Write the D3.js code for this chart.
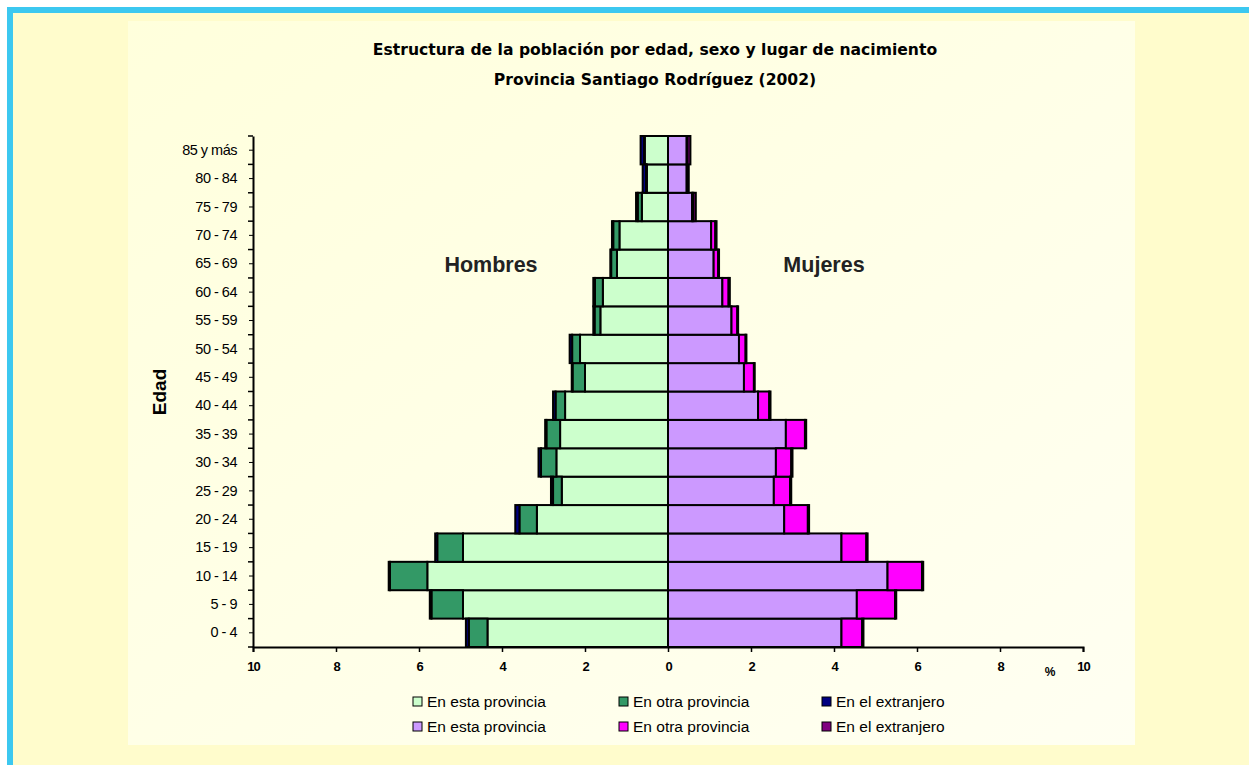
<!DOCTYPE html>
<html>
<head>
<meta charset="utf-8">
<script src="https://cdn.jsdelivr.net/npm/d3@7"></script>
<style>
  body { margin: 0; background: #ffffff; }
  svg { display: block; }
</style>
</head>
<body>
<script>
var w = 1249, h = 765;

// age groups, bottom to top
var ages = ["0 - 4", "5 - 9", "10 - 14", "15 - 19", "20 - 24", "25 - 29", "30 - 34", "35 - 39",
  "40 - 44", "45 - 49", "50 - 54", "55 - 59", "60 - 64", "65 - 69", "70 - 74", "75 - 79",
  "80 - 84", "85 y más"];

// percentages, men
var menEsta = [4.35, 4.94, 5.80, 4.94, 3.16, 2.56, 2.69, 2.60, 2.48, 2.00, 2.12, 1.63, 1.57, 1.23, 1.17, 0.63, 0.51, 0.56];
var menOtra = [0.45, 0.76, 0.90, 0.62, 0.42, 0.21, 0.37, 0.33, 0.23, 0.30, 0.19, 0.14, 0.19, 0.14, 0.15, 0.10, 0.02, 0.02];
var menExtr = [0.07, 0.04, 0.03, 0.05, 0.10, 0.05, 0.06, 0.03, 0.06, 0.02, 0.06, 0.03, 0.04, 0.02, 0.03, 0.04, 0.08, 0.08];

// percentages, women
var womenEsta = [4.18, 4.55, 5.29, 4.18, 2.80, 2.55, 2.60, 2.84, 2.17, 1.83, 1.71, 1.53, 1.31, 1.10, 1.04, 0.58, 0.45, 0.45];
var womenOtra = [0.50, 0.92, 0.83, 0.60, 0.57, 0.39, 0.37, 0.46, 0.27, 0.24, 0.16, 0.14, 0.15, 0.11, 0.10, 0.03, 0.01, 0.02];
var womenExtr = [0.03, 0.03, 0.03, 0.03, 0.03, 0.03, 0.03, 0.03, 0.03, 0.02, 0.02, 0.02, 0.03, 0.02, 0.03, 0.06, 0.04, 0.07];

var xTicks = [-10, -8, -6, -4, -2, 0, 2, 4, 6, 8, 10];
var legendLabels = ["En esta provincia", "En otra provincia", "En el extranjero"];
var menColors = ["#ccffcc", "#339966", "#000080"];
var womenColors = ["#cc99ff", "#ff00ff", "#800080"];

var svg = d3.select("body").append("svg").attr("width", w).attr("height", h);

// page background + blue frame
svg.append("rect").attr("x", 0).attr("y", 0).attr("width", w).attr("height", h).attr("fill", "#ffffff");
svg.append("rect").attr("x", 7).attr("y", 7).attr("width", w - 7).attr("height", h - 7).attr("fill", "#3cc8f0");
svg.append("rect").attr("x", 13).attr("y", 13).attr("width", w - 13).attr("height", h - 13).attr("fill", "#fffccc");

var grad = svg.append("defs").append("linearGradient").attr("id", "bg")
  .attr("x1", "0%").attr("y1", "0%").attr("x2", "100%").attr("y2", "100%");
grad.append("stop").attr("offset", "0%").attr("stop-color", "#ffffdc");
grad.append("stop").attr("offset", "100%").attr("stop-color", "#fffff2");
svg.append("rect").attr("x", 128).attr("y", 21).attr("width", 1007).attr("height", 724).attr("fill", "url(#bg)");

// titles
svg.append("text").attr("x", 655).attr("y", 55).attr("text-anchor", "middle")
  .style("font", "bold 15.6px 'DejaVu Sans', sans-serif")
  .text("Estructura de la población por edad, sexo y lugar de nacimiento");
svg.append("text").attr("x", 655).attr("y", 85).attr("text-anchor", "middle")
  .style("font", "bold 15.6px 'DejaVu Sans', sans-serif")
  .text("Provincia Santiago Rodríguez (2002)");

var x = d3.scaleLinear().domain([-10, 10]).range([253, 1083]);
var y = d3.scaleBand().domain(ages.slice().reverse()).range([136, 647]).padding(0);

function drawSide(esta, otra, extr, colors, sign) {
  var rows = ages.map(function (a, i) { return { age: a, esta: esta[i], otra: otra[i], extr: extr[i] } });
  var series = d3.stack().keys(["esta", "otra", "extr"])(rows);
  series.forEach(function (s, k) {
    svg.append("g").selectAll("rect").data(s).enter().append("rect")
      .attr("x", function (d) { return sign < 0 ? x(-d[1]) : x(d[0]) })
      .attr("width", function (d) { return x(d[1]) - x(d[0]) })
      .attr("y", function (d) { return y(d.data.age) })
      .attr("height", y.bandwidth())
      .attr("fill", colors[k])
      .attr("stroke", "#000")
      .attr("stroke-width", 2);
  });
}
drawSide(menEsta, menOtra, menExtr, menColors, -1);
drawSide(womenEsta, womenOtra, womenExtr, womenColors, 1);

// axes
var xAxis = svg.append("g").attr("transform", "translate(0,647)")
  .call(d3.axisBottom(x).tickValues(xTicks).tickSize(5).tickPadding(10)
    .tickFormat(function (d) { return Math.abs(d) }));
xAxis.select(".domain").attr("stroke-width", 2);
xAxis.selectAll("line").attr("stroke-width", 1.5);
xAxis.selectAll("text").style("font", "bold 13px 'Liberation Sans', sans-serif").attr("fill", "#000")
  .attr("letter-spacing", "-1");

var yAxis = svg.append("g").attr("transform", "translate(253,0)")
  .call(d3.axisLeft(y).tickSize(4).tickSizeOuter(0).tickPadding(12));
yAxis.select(".domain").attr("stroke-width", 2);
yAxis.selectAll("text").style("font", "14.5px 'Liberation Sans', sans-serif").attr("fill", "#000")
  .attr("letter-spacing", "-0.5");
// boundary ticks between age groups
yAxis.selectAll(".bound").data(d3.range(ages.length + 1)).enter().append("line")
  .attr("x1", -5).attr("x2", 0)
  .attr("y1", function (i) { return 136 + i * y.step() })
  .attr("y2", function (i) { return 136 + i * y.step() })
  .attr("stroke", "#000").attr("stroke-width", 1.5);

svg.append("text").attr("x", 1050).attr("y", 676).attr("text-anchor", "middle")
  .style("font", "bold 12px 'Liberation Sans', sans-serif").text("%");

svg.append("text").attr("transform", "translate(166,392) rotate(-90)").attr("text-anchor", "middle")
  .style("font", "bold 19px 'Liberation Sans', sans-serif").text("Edad");

svg.append("text").attr("x", 491).attr("y", 272).attr("text-anchor", "middle")
  .style("font", "bold 21.5px 'Liberation Sans', sans-serif").attr("fill", "#222").text("Hombres");
svg.append("text").attr("x", 824).attr("y", 272).attr("text-anchor", "middle")
  .style("font", "bold 21.5px 'Liberation Sans', sans-serif").attr("fill", "#222").text("Mujeres");

// legend
var legendX = [413, 619, 822];
[[menColors, 702], [womenColors, 727]].forEach(function (row) {
  var g = svg.append("g");
  legendLabels.forEach(function (lab, k) {
    g.append("rect").attr("x", legendX[k]).attr("y", row[1] - 5).attr("width", 9).attr("height", 9)
      .attr("fill", row[0][k]).attr("stroke", "#000").attr("stroke-width", 1);
    g.append("text").attr("x", legendX[k] + 14).attr("y", row[1] + 5)
      .style("font", "15.5px 'Liberation Sans', sans-serif").text(lab);
  });
});
</script>
</body>
</html>
